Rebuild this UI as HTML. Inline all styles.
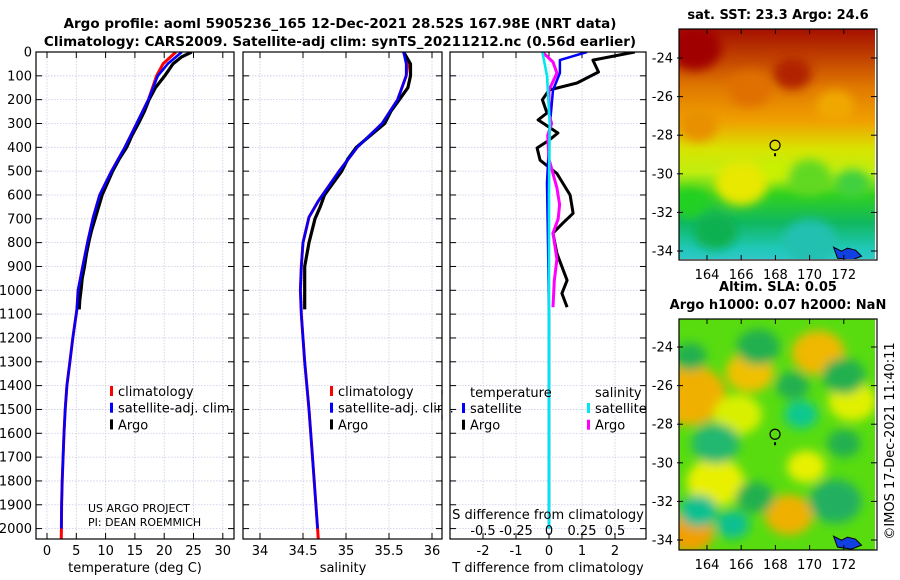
<!DOCTYPE html>
<html><head><meta charset="utf-8"><style>
html,body{margin:0;padding:0;background:#fff;}
svg{display:block;font-family:"DejaVu Sans","Liberation Sans",sans-serif;}
</style></head><body>
<svg id="fig" width="900" height="580" viewBox="0 0 900 580" xmlns="http://www.w3.org/2000/svg">
<defs>
<filter id="blur6" x="-50%" y="-50%" width="200%" height="200%"><feGaussianBlur stdDeviation="5"/></filter>
<clipPath id="clipMap1"><rect x="679" y="29" width="196" height="230"/></clipPath>
<clipPath id="clipMap2"><rect x="679" y="319" width="196" height="231"/></clipPath>
<clipPath id="clipP1"><rect x="36" y="52" width="198" height="487"/></clipPath>
<clipPath id="clipP2"><rect x="243" y="52" width="199" height="487"/></clipPath>
<clipPath id="clipP3"><rect x="450" y="52" width="196" height="487"/></clipPath>
<linearGradient id="sstGrad" x1="0" y1="0" x2="0" y2="1">
<stop offset="0" stop-color="#a51000"/><stop offset="0.12" stop-color="#c04000"/>
<stop offset="0.25" stop-color="#e07800"/><stop offset="0.4" stop-color="#f0a000"/>
<stop offset="0.52" stop-color="#d8e400"/><stop offset="0.62" stop-color="#c0ee10"/>
<stop offset="0.72" stop-color="#30d020"/><stop offset="0.84" stop-color="#10b860"/>
<stop offset="0.95" stop-color="#20c8b8"/><stop offset="1" stop-color="#30c8c8"/>
</linearGradient>
</defs>
<g id="titles">
<text x="340" y="28" text-anchor="middle" font-size="13.5" font-weight="bold">Argo profile: aoml 5905236_165 12-Dec-2021 28.52S 167.98E (NRT data)</text>
<text x="340" y="46" text-anchor="middle" font-size="13.5" font-weight="bold">Climatology: CARS2009. Satellite-adj clim: synTS_20211212.nc (0.56d earlier)</text>
</g>
<g id="panels"></g>
<g id="maps"></g>
<text transform="translate(894,441) rotate(-90)" text-anchor="middle" font-size="13">©IMOS 17-Dec-2021 11:40:11</text>
</svg>
<script>
// ---------- data ----------
const tDepth = [0,50,100,200,300,400,500,600,693,790,900,1000,1080,1200,1300,1400,1500,1600,1700,1800,1900,2000];
const tClim  = [22.0,19.8,18.7,17.3,15.3,13.3,11.0,9.0,7.9,7.0,6.1,5.3,5.1,4.4,3.9,3.4,3.1,2.9,2.75,2.6,2.5,2.45];
const tSat   = [23.0,20.6,18.9,17.3,15.3,13.3,11.0,9.0,7.9,7.0,6.1,5.3,5.1,4.4,3.9,3.4,3.1,2.9,2.75,2.6,2.5,2.45];
const argoTDepth = [0,20,50,100,150,200,250,300,350,400,450,500,550,600,650,693,750,790,850,900,950,1000,1040,1080];
const argoT      = [24.7,23.0,21.5,20.1,18.5,17.4,16.6,15.6,14.5,13.6,12.3,11.2,10.3,9.4,8.8,8.3,7.6,7.2,6.7,6.4,6.0,5.8,5.6,5.5];
const sDepth = [0,50,100,200,300,400,500,624,693,800,900,1000,1100,1200,1300,1500,1700,2000];
const sClim  = [35.67,35.72,35.70,35.60,35.42,35.13,34.92,34.68,34.57,34.50,34.48,34.47,34.48,34.50,34.52,34.57,34.61,34.67];
const sSat   = [35.67,35.70,35.70,35.60,35.42,35.13,34.92,34.68,34.57,34.50,34.48,34.47,34.48,34.50,34.52,34.57,34.61,34.67];
const argoSDepth = [0,50,100,150,200,250,300,400,450,500,600,650,700,800,900,1000,1080];
const argoS      = [35.67,35.75,35.75,35.72,35.62,35.52,35.45,35.12,35.02,34.95,34.75,34.70,34.64,34.57,34.52,34.52,34.52];
const dTDepth = [0,34,84,130,160,200,256,285,340,370,403,454,510,600,677,718,760,845,958,1013,1071];
const dTArgo  = [2.6,1.33,1.5,0.85,0.0,-0.2,-0.06,-0.33,0.27,0.0,-0.36,-0.27,0.24,0.64,0.73,0.42,0.12,0.24,0.55,0.39,0.55];
const dTSatDepth = [0,34,88,160,300,550,800,1100,1500,2000];
const dTSat      = [1.15,0.33,0.33,0.12,0.03,-0.06,-0.03,0.0,0.0,0.0];
const dSArgoDepth = [0,42,88,160,260,300,350,450,570,640,700,760,870,960,1071];
const dSArgo      = [-0.05,0.03,0.06,0.0,0.0,0.02,-0.01,0.0,0.06,0.08,0.07,0.03,0.06,0.04,0.03];
const dSSatDepth = [0,100,300,600,1000,1500,2000];
const dSSat      = [-0.05,-0.015,0.005,0.0,0.0,0.0,0.0];
const depthTicks = [0,100,200,300,400,500,600,700,800,900,1000,1100,1200,1300,1400,1500,1600,1700,1800,1900,2000];
const tTicks = [0,5,10,15,20,25,30];
const sTicks = [34,34.5,35,35.5,36];
const dTTicks = [-2,-1,0,1,2];
const dSTicks = [-0.5,-0.25,0,0.25,0.5];
const dSTickLabels = ['-0.5','-0.25','0','0.25','0.5'];
const lonTicks = [164,166,168,170,172];
const latTicks = [-24,-26,-28,-30,-32,-34];

// ---------- axes ----------
const NS='http://www.w3.org/2000/svg';
const yD = d => 52 + d*0.2383;
const xT = t => 47 + t*5.86;
const xS = s => 260 + (s-34)*86;
const xDT = t => 549 + t*33;
const xDS = s => 549 + s*132;
const xLon = l => 707 + (l-164)*17.1;
const yLat1 = l => 58 + (-24-l)*19.3;
const yLat2 = l => 347 + (-24-l)*19.3;
function mk(tag, attrs, parent){const e=document.createElementNS(NS,tag);for(const k in attrs)e.setAttribute(k,attrs[k]);parent.appendChild(e);return e;}
const panels=document.getElementById('panels');
const mapsG=document.getElementById('maps');

function panel(x0,x1,name){
  const g=mk('g',{},panels);
  
  
  const grid=mk('g',{stroke:'#c6cbe6','stroke-width':'0.8','stroke-dasharray':'1.5,1.5'},g);
  
  
  depthTicks.forEach(d=>{mk('line',{x1:x0,x2:x1,y1:yD(d),y2:yD(d)},grid);});
  const ticks=mk('g',{stroke:'#000','stroke-width':'1'},g);
  depthTicks.forEach(d=>{mk('line',{x1:x0,x2:x0+6,y1:yD(d),y2:yD(d)},ticks);mk('line',{x1:x1-6,x2:x1,y1:yD(d),y2:yD(d)},ticks);});
  return {g,grid,ticks};
}
function vgrid(p,xs,fn){xs.forEach(v=>{mk('line',{x1:fn(v),x2:fn(v),y1:52,y2:539},p.grid);mk('line',{x1:fn(v),x2:fn(v),y1:533,y2:539},p.ticks);mk('line',{x1:fn(v),x2:fn(v),y1:52,y2:58},p.ticks);});}
function frame(p,x0,x1){mk('rect',{x:x0,y:52,width:x1-x0,height:487,fill:'none',stroke:'#000','stroke-width':'1.2'},p.g);}
function line(parent,xs,ds,fx,color,w,name,clip){
  const pts=xs.map((v,i)=>fx(v).toFixed(1)+','+yD(ds[i]).toFixed(1)).join(' ');
  const e=mk('polyline',{points:pts,fill:'none',stroke:color,'stroke-width':w,'stroke-linejoin':'round','clip-path':'url(#'+clip+')'},parent);
  
  
  return e;
}
function txt(parent,x,y,s,opts){const e=mk('text',Object.assign({x:x,y:y,'font-size':'13'},opts||{}),parent);e.textContent=s;return e;}

// Panel 1 temperature
const p1=panel(36,234,'temperature-panel');
vgrid(p1,tTicks,xT);
line(p1.g,tClim.concat([2.42]),tDepth.concat([2060]),xT,'#ff0000',3,'temp-climatology-line','clipP1');
line(p1.g,argoT,argoTDepth,xT,'#000',3.2,'temp-argo-line','clipP1');
line(p1.g,tSat,tDepth,xT,'#0000ff',2.6,'temp-satellite-line','clipP1');
frame(p1,36,234);
depthTicks.forEach(d=>{const t=txt(panels,32,yD(d)+4.5,String(d),{'text-anchor':'end'});});
tTicks.forEach(v=>{const t=txt(panels,xT(v),555,String(v),{'text-anchor':'middle'});});
{const t=txt(panels,135,572,'temperature (deg C)',{'text-anchor':'middle'});}
function legend(x,y,items){
  items.forEach((it,i)=>{
    const r=mk('rect',{x:x,y:y+i*16.7-10,width:3,height:10,fill:it[0]},panels);
    
    
    const t=txt(panels,x+8,y+i*16.7,it[1]);
    
    
  });
}
legend(110,396,[['#ff0000','climatology'],['#0000ff','satellite-adj. clim.'],['#000','Argo']]);
{const t=txt(panels,88,512,'US ARGO PROJECT',{'font-size':'11'});}
{const t=txt(panels,88,526,'PI: DEAN ROEMMICH',{'font-size':'11'});}

// Panel 2 salinity
const p2=panel(243,442,'salinity-panel');
vgrid(p2,sTicks,xS);
line(p2.g,sClim.concat([34.68]),sDepth.concat([2060]),xS,'#ff0000',3,'sal-climatology-line','clipP2');
line(p2.g,argoS,argoSDepth,xS,'#000',3.2,'sal-argo-line','clipP2');
line(p2.g,sSat,sDepth,xS,'#0000ff',2.6,'sal-satellite-line','clipP2');
frame(p2,243,442);
sTicks.forEach(v=>{const t=txt(panels,xS(v),555,String(v),{'text-anchor':'middle'});});
{const t=txt(panels,343,572,'salinity',{'text-anchor':'middle'});}
legend(330,396,[['#ff0000','climatology'],['#0000ff','satellite-adj. clim.'],['#000','Argo']]);
mk('rect',{x:442,y:395,width:8,height:20,fill:'#fff'},panels);
mk('line',{x1:442,x2:442,y1:390,y2:420,stroke:'#000','stroke-width':'1.2'},panels);

// Panel 3 differences
const p3=panel(450,646,'difference-panel');
vgrid(p3,dTTicks,xDT);
line(p3.g,dTArgo,dTDepth,xDT,'#000',3,'temp-diff-argo-line','clipP3');
line(p3.g,dTSat,dTSatDepth,xDT,'#0000ff',2.5,'temp-diff-satellite-line','clipP3');
line(p3.g,dSArgo,dSArgoDepth,xDS,'#ff00ff',3,'sal-diff-argo-line','clipP3');
line(p3.g,dSSat,dSSatDepth,xDS,'#00e8ee',2.6,'sal-diff-satellite-line','clipP3');
frame(p3,450,646);
dTTicks.forEach(v=>{const t=txt(panels,xDT(v),555,String(v),{'text-anchor':'middle'});});
dSTicks.forEach((v,i)=>{const t=txt(panels,xDS(v),535,dSTickLabels[i],{'text-anchor':'middle'});mk('line',{x1:xDS(v),x2:xDS(v),y1:539,y2:534,stroke:'#000'},panels);});
{const t=txt(panels,548,519,'S difference from climatology',{'text-anchor':'middle'});}
{const t=txt(panels,548,572,'T difference from climatology',{'text-anchor':'middle'});}
{const t=txt(panels,470,397,'temperature');}
{const t=txt(panels,595,397,'salinity');}
legend(462,413,[['#0000ff','satellite'],['#000','Argo']]);
legend(587,413,[['#00e8ee','satellite'],['#ff00ff','Argo']]);

// ---------- maps ----------
const m1Blobs = [[163.3,-23.5,22,'#a00000'],[166.5,-25.6,18,'#e07000'],[169,-24.8,16,'#b02000'],[171.5,-26.5,16,'#f0a800'],[163.5,-27.5,16,'#e89000'],[166,-30.5,22,'#e8e800'],[170,-30.2,18,'#60d820'],[168,-29.8,12,'#c8f000'],[172.5,-30.5,14,'#40d040'],[170,-33.5,22,'#20c0b0'],[164.5,-33,18,'#10b050'],[163,-31.5,14,'#20d020']];
const m2Blobs = [[163,-26.5,30,'#f0b000'],[166.5,-25.3,20,'#f0c000'],[170.5,-24.3,22,'#f0b800'],[163,-33.6,20,'#f0a000'],[168.8,-32.7,20,'#f0b000'],[164.5,-31,24,'#e8f000'],[169.8,-30.2,16,'#e8f000'],[172.5,-26.8,20,'#e0f000'],[165.8,-27.5,20,'#d8f000'],[169.5,-27.5,14,'#10c890'],[164.5,-29,20,'#20b870'],[163.5,-32.5,16,'#10c090'],[165.5,-33.2,14,'#10c090'],[171.5,-32,22,'#20b060'],[167,-24,18,'#20b050'],[172,-25.5,18,'#20b050'],[169,-26,14,'#20b050'],[166.8,-31.8,16,'#20b050'],[163,-24.5,14,'#20b050'],[172,-29,14,'#20b050']];
function drawMap(yLat,y0,clip,name,base,blobs,title1,title2){
  const g=mk('g',{},mapsG);
  
  
  const c=mk('g',{'clip-path':'url(#'+clip+')'},g);
  mk('rect',{x:679,y:y0,width:196,height:231,fill:base},c);
  const bl=mk('g',{filter:'url(#blur6)'},c);
  blobs.forEach(b=>{mk('ellipse',{cx:xLon(b[0]),cy:yLat(b[1]),rx:b[2]*1.2,ry:b[2],fill:b[3]},bl);});
  mk('path',{d:`M${xLon(171.4)},${yLat(-33.8)} l8,4 l6,-3 l8,2 l6,6 l-10,4 l-14,-2 z`,fill:'#1040e0',stroke:'#000','stroke-width':'1'},c);
  const m=mk('circle',{cx:xLon(167.98),cy:yLat(-28.52),r:5,fill:'none',stroke:'#000','stroke-width':'1.2'},g);
  
  
  mk('rect',{x:xLon(167.98)-1,y:yLat(-28.52)+8,width:2,height:3,fill:'#000'},g);
  mk('rect',{x:679,y:y0,width:198,height:231,fill:'none',stroke:'#000','stroke-width':'1.2'},g);
  lonTicks.forEach(l=>{mk('line',{x1:xLon(l),x2:xLon(l),y1:y0+231,y2:y0+226,stroke:'#000'},g);mk('line',{x1:xLon(l),x2:xLon(l),y1:y0,y2:y0+5,stroke:'#000'},g);
    const t=txt(g,xLon(l),y0+250,String(l),{'text-anchor':'middle'});});
  latTicks.forEach(l=>{mk('line',{x1:677,x2:683,y1:yLat(l),y2:yLat(l),stroke:'#000'},g);mk('line',{x1:871,x2:877,y1:yLat(l),y2:yLat(l),stroke:'#000'},g);
    const t=txt(g,673,yLat(l)+4.5,String(l),{'text-anchor':'end'});});
  const t1=txt(g,778,y0-(title2?28:10),title1,{'text-anchor':'middle','font-weight':'bold'});
  
  
  if(title2){const t2=txt(g,778,y0-10,title2,{'text-anchor':'middle','font-weight':'bold'});}
}
drawMap(yLat1,29,'clipMap1','sst-map','url(#sstGrad)',m1Blobs,'sat. SST: 23.3 Argo: 24.6',null);
drawMap(yLat2,319,'clipMap2','sla-map','#58dc10',m2Blobs,'Altim. SLA: 0.05','Argo h1000: 0.07 h2000: NaN');
</script>
</body></html>
